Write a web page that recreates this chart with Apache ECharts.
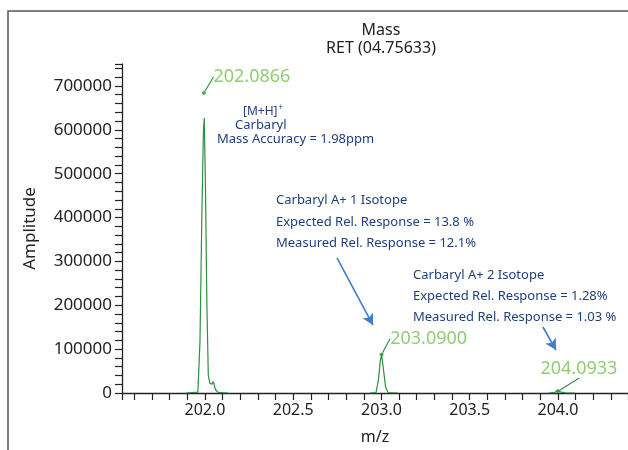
<!DOCTYPE html>
<html>
<head>
<meta charset="utf-8">
<script src="https://cdn.jsdelivr.net/npm/echarts@6/dist/echarts.min.js"></script>
<style>
html,body{margin:0;padding:0;background:#fff;}
#chart{width:628px;height:450px;}
</style>
</head>
<body>
<div id="chart"></div>
<script>
// ---- data ----
var peak1X = [201.892, 201.960, 201.972, 201.983, 201.9915, 201.996, 202.003, 202.011, 202.019, 202.028, 202.040, 202.048, 202.059, 202.074, 202.130];
var peak1Y = [0, 2000, 120000, 420000, 600000, 627000, 470000, 200000, 40000, 22000, 20000, 26000, 8000, 1500, 0];
var peak2X = [202.935, 202.969, 202.983, 202.994, 203.001, 203.011, 203.023, 203.037, 203.093];
var peak2Y = [0, 1000, 30000, 75000, 87000, 55000, 15000, 1000, 0];
var peak3X = [203.949, 203.983, 204.000, 204.017, 204.045, 204.096];
var peak3Y = [0, 1500, 5500, 2000, 500, 0];

var massLabels = ['202.0866', '203.0900', '204.0933'];
var massDotX = [201.994, 203.001, 204.000];
var massDotY = [684000, 88000, 4000];

var arrowFrom = [[202.748, 307800], [203.915, 150500]];
var arrowTo = [[202.952, 155000], [203.989, 98000]];

var yTickValues = [0, 100000, 200000, 300000, 400000, 500000, 600000, 700000];
var xTickLabels = ['202.0', '202.5', '203.0', '203.5', '204.0'];

var titleText = 'Mass\nRET (04.75633)';
var xName = 'm/z';
var yName = 'Amplitude';

var noteMH = ['{t|[M+H]}{s|+}', 'Carbaryl', 'Mass Accuracy = 1.98ppm'];
var noteA1 = ['Carbaryl A+ 1 Isotope', 'Expected Rel. Response = 13.8 %', 'Measured Rel. Response = 12.1%'];
var noteA2 = ['Carbaryl A+ 2 Isotope', 'Expected Rel. Response = 1.28%', 'Measured Rel. Response = 1.03 %'];

function pairs(xs, ys) { return xs.map(function (x, i) { return [x, ys[i]]; }); }

var FONT = '"Noto Sans", "Open Sans", sans-serif';
var lineGreen = '#2f8f43';
var labelGreen = '#72c14f';
var blueText = '#1f3f7c';
var arrowBlue = '#3f7ec9';
var labelOffsets = [[48, -16], [47, -16], [21, -22]];

var chart = echarts.init(document.getElementById('chart'), null, {renderer: 'canvas'});

function peakSeries(xs, ys, extra) {
  var s = {
    type: 'line',
    data: pairs(xs, ys),
    showSymbol: false,
    symbol: 'none',
    silent: true,
    animation: false,
    lineStyle: {color: lineGreen, width: 1.2},
    z: 3
  };
  if (extra) { for (var k in extra) s[k] = extra[k]; }
  return s;
}

var option = {
  animation: false,
  backgroundColor: '#fff',
  title: {
    text: titleText,
    left: 376,
    top: 16,
    textAlign: 'center',
    textStyle: {fontFamily: FONT, fontSize: 16, fontWeight: 'normal', color: '#222', lineHeight: 18}
  },
  grid: {left: 122, right: 0, top: 64, bottom: 57, containLabel: false},
  xAxis: {
    type: 'value',
    min: 201.53,
    max: 204.397,
    splitNumber: 6,
    name: xName,
    nameLocation: 'middle',
    nameGap: 36,
    nameTextStyle: {fontFamily: FONT, fontSize: 16, color: '#222'},
    axisLine: {show: true, onZero: false, lineStyle: {color: '#222', width: 1.3}},
    axisTick: {show: true, inside: false, length: 7, lineStyle: {color: '#222', width: 1.2}},
    minorTick: {show: true, splitNumber: 5, length: 7, lineStyle: {color: '#222', width: 1.2}},
    axisLabel: {
      margin: 9,
      fontFamily: FONT, fontSize: 16, color: '#222',
      showMinLabel: false, showMaxLabel: false,
      formatter: function (v) {
        var s = v.toFixed(1);
        return xTickLabels.indexOf(s) >= 0 ? s : '';
      }
    },
    splitLine: {show: false}
  },
  yAxis: {
    type: 'value',
    min: 0,
    max: 750000,
    interval: 100000,
    name: yName,
    nameLocation: 'middle',
    nameGap: 83,
    nameTextStyle: {fontFamily: FONT, fontSize: 17, color: '#222'},
    axisLine: {show: true, lineStyle: {color: '#222', width: 1.3}},
    axisTick: {show: true, inside: false, length: 7, lineStyle: {color: '#222', width: 1.2}},
    minorTick: {show: true, splitNumber: 5, length: 7, lineStyle: {color: '#222', width: 1.2}},
    axisLabel: {
      margin: 10,
      fontFamily: FONT, fontSize: 17, color: '#222',
      showMaxLabel: false,
      formatter: function (v) { return yTickValues.indexOf(v) >= 0 ? String(v) : ''; }
    },
    splitLine: {show: false}
  },
  series: [
    peakSeries(peak1X, peak1Y),
    peakSeries(peak2X, peak2Y, {
      markLine: {
        silent: true,
        symbol: ['none', 'arrow'],
        symbolSize: [9, 11],
        label: {show: false},
        lineStyle: {color: arrowBlue, width: 1.6, type: 'solid'},
        data: arrowFrom.map(function (p, i) {
          return [{coord: p}, {coord: arrowTo[i]}];
        })
      }
    }),
    peakSeries(peak3X, peak3Y),
    {
      type: 'scatter',
      data: pairs(massDotX, massDotY),
      symbol: 'circle',
      symbolSize: 4,
      silent: true,
      itemStyle: {color: lineGreen},
      z: 5,
      label: {
        show: true,
        position: 'inside',
        fontFamily: FONT,
        fontSize: 18,
        color: labelGreen,
        formatter: function (p) { return massLabels[p.dataIndex]; }
      },
      labelLayout: function (params) {
        var o = labelOffsets[params.dataIndex];
        return {dx: o[0], dy: o[1]};
      },
      labelLine: {show: true, lineStyle: {color: lineGreen, width: 1.1}}
    }
  ],
  graphic: [
    {
      type: 'rect',
      silent: true,
      shape: {x: 8, y: 11, width: 800, height: 600},
      style: {fill: 'none', stroke: '#555', lineWidth: 1.5},
      z: -1
    },
    {
      type: 'text', silent: true, left: 243, top: 104,
      style: {
        text: noteMH[0],
        rich: {
          t: {fontFamily: FONT, fontSize: 12, fill: blueText},
          s: {fontFamily: FONT, fontSize: 8, fill: blueText, verticalAlign: 'top', padding: [0, 0, 8, 1]}
        }
      }
    },
    {
      type: 'text', silent: true, left: 235, top: 119,
      style: {text: noteMH[1], fontFamily: FONT, fontSize: 13, fill: blueText}
    },
    {
      type: 'text', silent: true, left: 217, top: 133,
      style: {text: noteMH[2], fontFamily: FONT, fontSize: 13, fill: blueText}
    },
    {
      type: 'text', silent: true, left: 276, top: 190,
      style: {text: noteA1.join('\n'), fontFamily: FONT, fontSize: 13, lineHeight: 21.3, fill: blueText}
    },
    {
      type: 'text', silent: true, left: 413, top: 265,
      style: {text: noteA2.join('\n'), fontFamily: FONT, fontSize: 13, lineHeight: 21, fill: blueText}
    }
  ]
};

chart.setOption(option);
</script>
</body>
</html>
